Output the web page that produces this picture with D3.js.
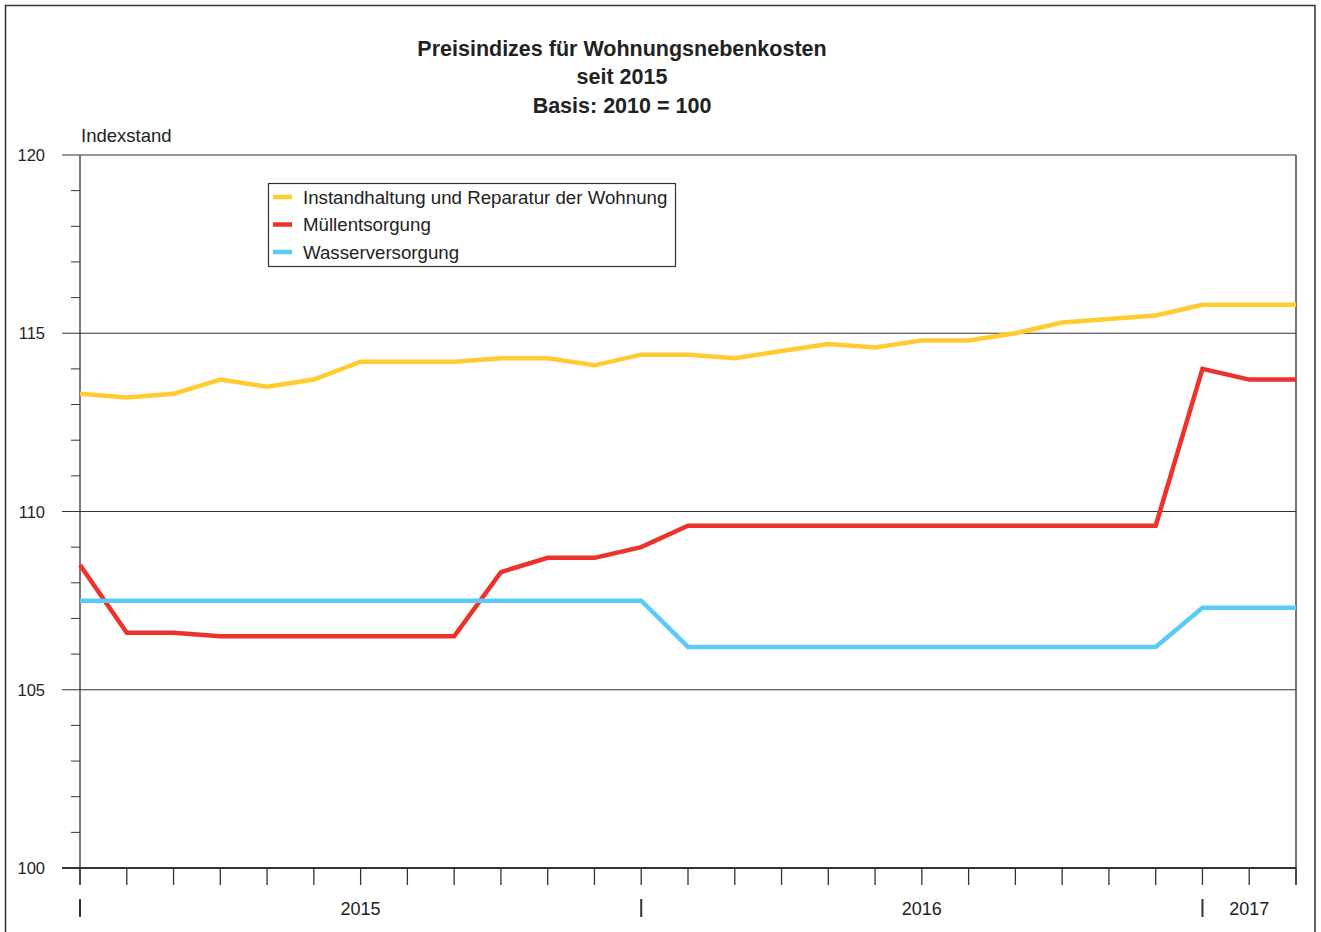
<!DOCTYPE html>
<html><head><meta charset="utf-8">
<script src="https://cdn.jsdelivr.net/npm/d3@7"></script>
<style>body{margin:0;background:#fff}svg{display:block;font-family:"Liberation Sans",Arial,sans-serif}</style>
</head><body>
<svg id="c" width="1321" height="932"></svg>
<script>
const months = ["2015-01","2015-02","2015-03","2015-04","2015-05","2015-06","2015-07","2015-08","2015-09","2015-10","2015-11","2015-12","2016-01","2016-02","2016-03","2016-04","2016-05","2016-06","2016-07","2016-08","2016-09","2016-10","2016-11","2016-12","2017-01","2017-02","2017-03"];
const instandhaltung = [113.3,113.2,113.3,113.7,113.5,113.7,114.2,114.2,114.2,114.3,114.3,114.1,114.4,114.4,114.3,114.5,114.7,114.6,114.8,114.8,115.0,115.3,115.4,115.5,115.8,115.8,115.8];
const muell = [108.5,106.6,106.6,106.5,106.5,106.5,106.5,106.5,106.5,108.3,108.7,108.7,109.0,109.6,109.6,109.6,109.6,109.6,109.6,109.6,109.6,109.6,109.6,109.6,114.0,113.7,113.7];
const wasser = [107.5,107.5,107.5,107.5,107.5,107.5,107.5,107.5,107.5,107.5,107.5,107.5,107.5,106.2,106.2,106.2,106.2,106.2,106.2,106.2,106.2,106.2,106.2,106.2,107.3,107.3,107.3];
const seriesNames = ["Instandhaltung und Reparatur der Wohnung","Müllentsorgung","Wasserversorgung"];
const seriesColors = ["#FFCB2F","#EE3129","#5BCBF5"];
const yMajor = [100,105,110,115,120];
const years = [{label:"2015",from:0,to:12},{label:"2016",from:12,to:24},{label:"2017",from:24,to:26}];
const yearSeps = [0,12,24];

const svg = d3.select("#c");
const L=80,R=1296,T=155,B=868;
const x = d3.scaleLinear().domain([0,months.length-1]).range([L,R]);
const y = d3.scaleLinear().domain([100,120]).range([B,T]);

// outer frame
svg.append("rect").attr("x",5.5).attr("y",5.5).attr("width",1309.5).attr("height",940).attr("fill","none").attr("stroke","#333").attr("stroke-width",1.5);

// title
const title=["Preisindizes für Wohnungsnebenkosten","seit 2015","Basis: 2010 = 100"];
title.forEach((t,i)=>svg.append("text").attr("x",622).attr("y",55.5+i*28.5).attr("text-anchor","middle")
  .attr("font-size",21.5).attr("font-weight","bold").attr("fill","#222").text(t));

svg.append("text").attr("x",81).attr("y",142).attr("font-size",18.5).attr("fill","#222").text("Indexstand");

// minor y ticks
d3.range(100,121,1).forEach(v=>{
  if(v%5!==0) svg.append("line").attr("x1",71).attr("x2",L).attr("y1",y(v)).attr("y2",y(v)).attr("stroke","#333").attr("stroke-width",1);
});
// major gridlines
yMajor.forEach(v=>{
  svg.append("line").attr("x1",62).attr("x2",R).attr("y1",y(v)).attr("y2",y(v)).attr("stroke","#333").attr("stroke-width",v===100?1.8:1.2);
  svg.append("text").attr("x",45).attr("y",y(v)+6).attr("text-anchor","end").attr("font-size",16.5).attr("fill","#222").text(v);
});
// right border & left axis
svg.append("line").attr("x1",R).attr("x2",R).attr("y1",T).attr("y2",885).attr("stroke","#444").attr("stroke-width",1.5);
svg.append("line").attr("x1",L).attr("x2",L).attr("y1",T).attr("y2",885).attr("stroke","#333").attr("stroke-width",1.3);

// x ticks
months.forEach((m,i)=>{
  svg.append("line").attr("x1",x(i)).attr("x2",x(i)).attr("y1",B).attr("y2",885).attr("stroke","#333").attr("stroke-width",1.3);
});
yearSeps.forEach(i=>{
  svg.append("line").attr("x1",x(i)).attr("x2",x(i)).attr("y1",899).attr("y2",917).attr("stroke","#333").attr("stroke-width",2);
});
years.forEach(yr=>{
  svg.append("text").attr("x",(x(yr.from)+x(yr.to))/2).attr("y",914.5).attr("text-anchor","middle").attr("font-size",18).attr("fill","#222").text(yr.label);
});

// lines
const line = d3.line().x((d,i)=>x(i)).y(d=>y(d));
[instandhaltung,muell,wasser].forEach((s,k)=>{
  svg.append("path").datum(s).attr("d",line).attr("fill","none").attr("stroke",seriesColors[k]).attr("stroke-width",4.5).attr("stroke-linejoin","miter");
});

// legend
svg.append("rect").attr("x",268.5).attr("y",183.5).attr("width",407).attr("height",83).attr("fill","#fff").attr("stroke","#333").attr("stroke-width",1.2);
seriesNames.forEach((n,i)=>{
  const yy=197+i*27.5;
  svg.append("line").attr("x1",273).attr("x2",292).attr("y1",yy).attr("y2",yy).attr("stroke",seriesColors[i]).attr("stroke-width",4.5);
  svg.append("text").attr("x",303).attr("y",yy+6.5).attr("font-size",18.7).attr("fill","#222").text(n);
});
</script>
</body></html>
